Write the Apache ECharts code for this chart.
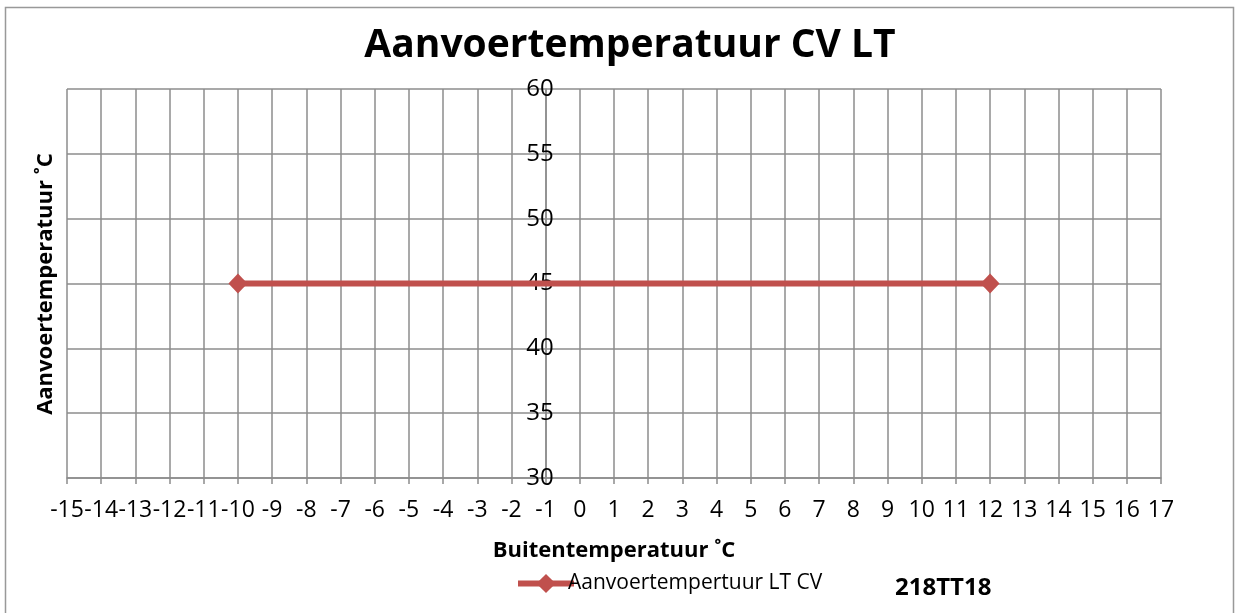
<!DOCTYPE html>
<html>
<head>
<meta charset="utf-8">
<script src="https://cdn.jsdelivr.net/npm/echarts@6/dist/echarts.min.js"></script>
<style>
  html, body { margin: 0; padding: 0; background: #fff; }
  #chart { width: 1241px; height: 613px; }
</style>
</head>
<body>
<div id="chart"></div>
<script>
// gegevens uit de grafiek
const buitenTemp = [-10, 12];
const aanvoerTemp = [45, 45];
const xRange = [-15, 17];
const yRange = [30, 60];
const yAxisCross = -1; // verticale as staat bij -1

const chartTitle = 'Aanvoertemperatuur CV LT';
const xName = 'Buitentemperatuur ˚C';
const yName = 'Aanvoertemperatuur ˚C';
const seriesName = 'Aanvoertempertuur LT CV';
const tagText = '218TT18';

const font = "'Open Sans', 'Noto Sans', sans-serif";
const gridColor = '#8c8c8c';

const gridLeft = 67, gridRight = 1161;
const unit = (gridRight - gridLeft) / (xRange[1] - xRange[0]);

const myChart = echarts.init(document.getElementById('chart'));

const option = {
  animation: false,
  textStyle: { fontFamily: font },
  grid: { left: gridLeft, right: 1241 - gridRight, top: 89, bottom: 613 - 478 },
  legend: {
    left: 510,
    top: 568,
    itemWidth: 56,
    itemHeight: 24,
    itemGap: 0,
    lineStyle: { width: 6 },
    textStyle: { fontSize: 21, color: '#000', padding: [0, 0, 0, -11] },
    data: [seriesName]
  },
  xAxis: {
    type: 'value',
    min: xRange[0],
    max: xRange[1],
    interval: 1,
    name: xName,
    nameLocation: 'middle',
    nameGap: 62,
    nameTextStyle: { fontSize: 22, fontWeight: 'bold', color: '#000' },
    axisLine: { onZero: false, lineStyle: { color: gridColor, width: 1.5 } },
    axisTick: { show: true, length: 6, lineStyle: { color: gridColor, width: 1.5 } },
    axisLabel: { fontSize: 23, color: '#000', margin: 21, showMinLabel: true, showMaxLabel: true, hideOverlap: false },
    splitLine: { show: true, lineStyle: { color: gridColor, width: 1.5 } }
  },
  yAxis: {
    type: 'value',
    min: yRange[0],
    max: yRange[1],
    interval: 5,
    offset: -(yAxisCross - xRange[0]) * unit,
    axisLine: { show: true, onZero: false, lineStyle: { color: gridColor, width: 1.5 } },
    axisTick: { show: false },
    axisLabel: { fontSize: 24, color: '#000', margin: -8 },
    splitLine: { show: true, lineStyle: { color: gridColor, width: 1.5 } }
  },
  series: [
    {
      name: seriesName,
      type: 'line',
      data: buitenTemp.map((x, i) => [x, aanvoerTemp[i]]),
      symbol: 'diamond',
      symbolSize: [19, 20],
      color: '#c0504d',
      lineStyle: { width: 6, color: '#c0504d' },
      itemStyle: { color: '#c0504d' }
    }
  ],
  graphic: [
    {
      type: 'rect',
      shape: { x: 5.5, y: 7.5, width: 1228, height: 620 },
      style: { fill: 'none', stroke: '#999', lineWidth: 1.5 },
      silent: true
    },
    {
      type: 'text',
      x: 630,
      y: 46,
      style: {
        text: chartTitle,
        font: 'bold 39px ' + font,
        fill: '#000',
        align: 'center',
        verticalAlign: 'middle'
      }
    },
    {
      type: 'text',
      x: 46,
      y: 284,
      rotation: Math.PI / 2,
      style: {
        text: yName,
        font: 'bold 22px ' + font,
        fill: '#000',
        align: 'center',
        verticalAlign: 'middle'
      }
    },
    {
      type: 'text',
      x: 895,
      y: 588,
      style: {
        text: tagText,
        font: 'bold 24px ' + font,
        fill: '#000',
        align: 'left',
        verticalAlign: 'middle'
      }
    }
  ]
};

myChart.setOption(option);

window.addEventListener('resize', function () {
  myChart.resize();
});
</script>
</body>
</html>
